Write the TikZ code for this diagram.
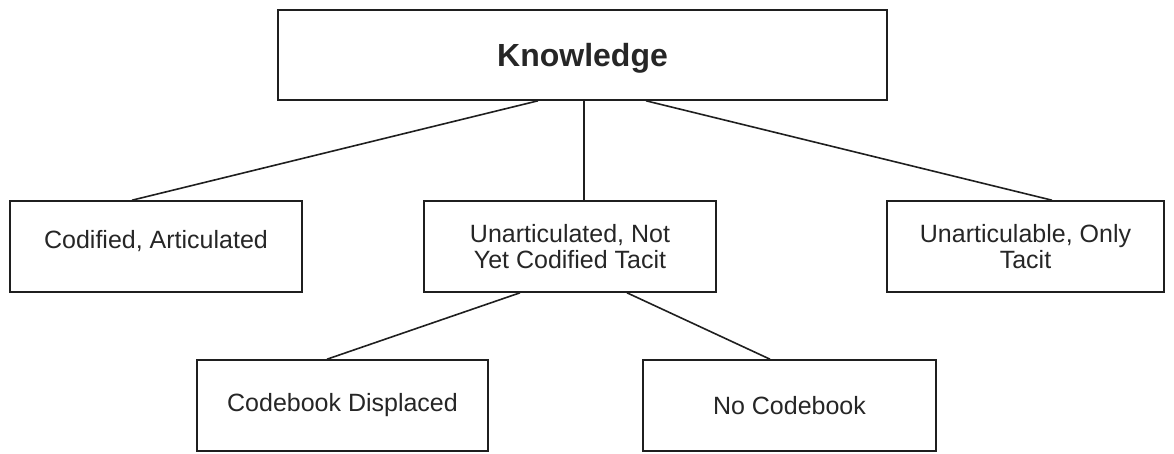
\documentclass[tikz,border=0pt]{standalone}
\usepackage{fontspec}
\setmainfont{Liberation Sans}
\begin{document}
\begin{tikzpicture}[x=1pt,y=-1pt,
  kbox/.style={draw=black!88, line width=1.6pt, rectangle, inner sep=0pt, align=center,
    font=\fontsize{25}{26}\selectfont, text=black!85},
  link/.style={draw=black!88, line width=1.6pt}]
\useasboundingbox (0,0) rectangle (1174,453);
\node[kbox, minimum width=609, minimum height=90, font=\fontsize{32}{34}\selectfont\bfseries,
  text height=23pt, text depth=1pt] (know) at (582.5,55) {Knowledge};
\node[kbox, minimum width=292, minimum height=91, text height=18pt, text depth=15pt] (cod) at (156,246.5) {Codified, Articulated};
\node[kbox, minimum width=292, minimum height=91] (una) at (570,246.5) {Unarticulated, Not\\Yet Codified Tacit};
\node[kbox, minimum width=277, minimum height=91] (unl) at (1025.5,246.5) {Unarticulable, Only\\Tacit};
\node[kbox, minimum width=291, minimum height=91] (cbd) at (342.5,405.5) {Codebook Displaced};
\node[kbox, minimum width=293, minimum height=91] (noc) at (789.5,405.5) {No Codebook};
\draw[link] ([xshift=-44.5pt]know.south) -- ([xshift=-24pt]cod.north);
\draw[link] ([xshift=1.5pt]know.south) -- ([xshift=14pt]una.north);
\draw[link] ([xshift=63.5pt]know.south) -- ([xshift=26.5pt]unl.north);
\draw[link] ([xshift=-50pt]una.south) -- ([xshift=-15.5pt]cbd.north);
\draw[link] ([xshift=57pt]una.south) -- ([xshift=-19.5pt]noc.north);
\end{tikzpicture}
\end{document}
